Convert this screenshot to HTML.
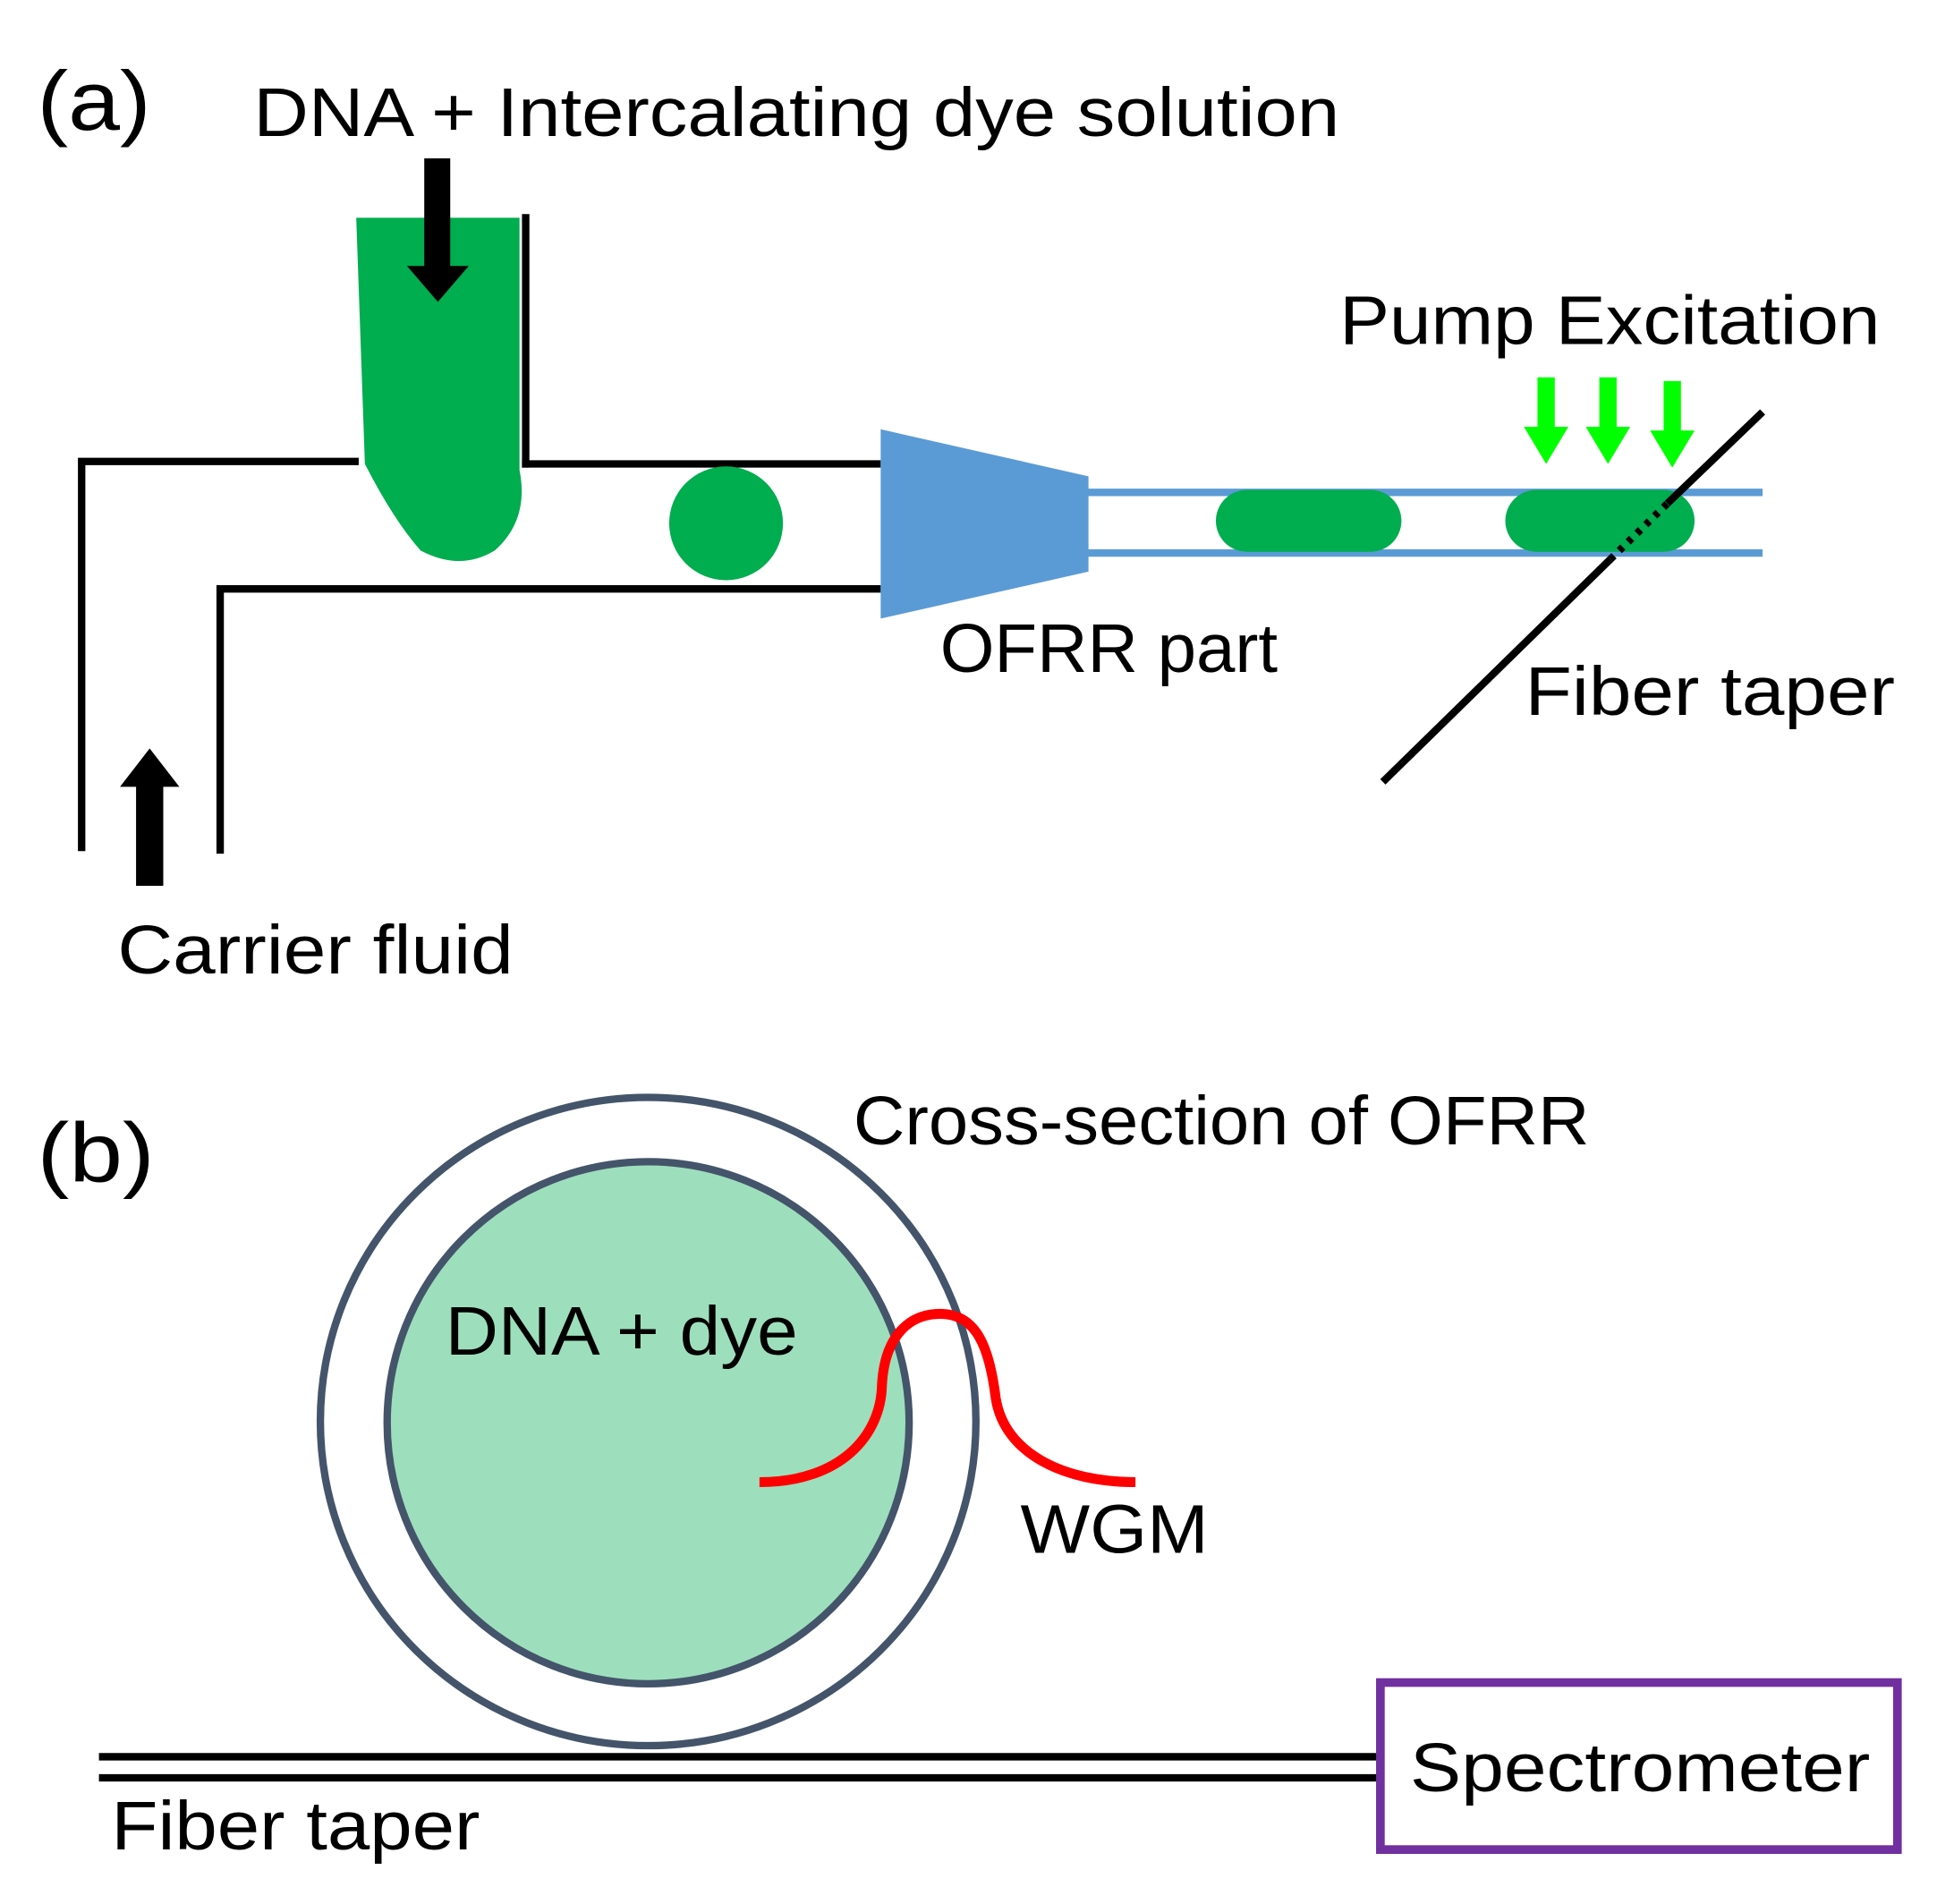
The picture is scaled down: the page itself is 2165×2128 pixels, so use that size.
<!DOCTYPE html>
<html><head><style>html,body{margin:0;padding:0;background:#fff}svg{display:block}</style></head>
<body>
<svg width="2165" height="2128" viewBox="0 0 1566 1539" preserveAspectRatio="none" xmlns="http://www.w3.org/2000/svg" font-family="Liberation Sans, sans-serif" fill="#000">
<rect width="1566" height="1539" fill="#fff"/>
<!-- (a) -->
<text x="30" y="105" font-size="68" textLength="92" lengthAdjust="spacingAndGlyphs">(a)</text>
<text x="205" y="110" font-size="56" textLength="878" lengthAdjust="spacingAndGlyphs">DNA + Intercalating dye solution</text>
<!-- green inlet -->
<path d="M288 176 H420 V380 Q428 420 400 445 Q372 462 340 445 Q318 420 295 375 Z" fill="#00ad4f"/>
<!-- black down arrow -->
<rect x="343" y="128" width="21" height="90" fill="#000"/>
<polygon points="329,215 379,215 354,244" fill="#000"/>
<!-- channel lines -->
<g stroke="#000" stroke-width="6" fill="none">
<polyline points="66,688 66,373 290,373"/>
<line x1="425" y1="173" x2="425" y2="378"/>
<line x1="422" y1="375" x2="712" y2="375"/>
<polyline points="178,690 178,476 712,476"/>
</g>
<ellipse cx="587" cy="423" rx="46" ry="46" fill="#00ad4f"/>
<polygon points="712,347 880,385 880,462 712,500" fill="#5b9bd5"/>
<g stroke="#5b9bd5" stroke-width="6"><line x1="878" y1="398" x2="1425" y2="398"/><line x1="878" y1="447" x2="1425" y2="447"/></g>
<rect x="983" y="396" width="150" height="50" rx="25" fill="#00ad4f"/>
<rect x="1217" y="396" width="153" height="50" rx="25" fill="#00ad4f"/>
<line x1="1118" y1="632" x2="1302" y2="452" stroke="#000" stroke-width="6"/>
<line x1="1348" y1="407" x2="1425" y2="333" stroke="#000" stroke-width="6"/>
<line x1="1302" y1="452" x2="1348" y2="407" stroke="#000" stroke-width="6" stroke-dasharray="4 6"/>
<!-- pump arrows -->
<g fill="#00ff00">
<rect x="1243" y="305" width="14" height="42"/><polygon points="1232,345 1268,345 1250,375"/>
<rect x="1293" y="305" width="14" height="42"/><polygon points="1282,345 1318,345 1300,375"/>
<rect x="1345" y="308" width="14" height="42"/><polygon points="1334,348 1370,348 1352,378"/>
</g>
<text x="1083" y="278" font-size="56" textLength="437" lengthAdjust="spacingAndGlyphs">Pump Excitation</text>
<text x="760" y="543" font-size="56" textLength="273" lengthAdjust="spacingAndGlyphs">OFRR part</text>
<text x="1233" y="578" font-size="56" textLength="299" lengthAdjust="spacingAndGlyphs">Fiber taper</text>
<!-- up arrow -->
<rect x="110" y="632" width="22" height="84" fill="#000"/>
<polygon points="97,636 145,636 121,605" fill="#000"/>
<text x="95" y="787" font-size="56" textLength="320" lengthAdjust="spacingAndGlyphs">Carrier fluid</text>
<!-- (b) -->
<text x="30" y="955" font-size="68" textLength="95" lengthAdjust="spacingAndGlyphs">(b)</text>
<ellipse cx="524" cy="1149" rx="265" ry="262" fill="none" stroke="#44546a" stroke-width="6"/>
<ellipse cx="524" cy="1150" rx="211" ry="211" fill="#9ddfbc" stroke="#44546a" stroke-width="6"/>
<text x="690" y="925" font-size="56" textLength="595" lengthAdjust="spacingAndGlyphs">Cross-section of OFRR</text>
<text x="360" y="1095" font-size="56" textLength="285" lengthAdjust="spacingAndGlyphs">DNA + dye</text>
<path d="M614 1198 C680 1198 712 1160 713 1120 C715 1080 735 1062 760 1062 C790 1062 800 1090 805 1130 C812 1175 860 1198 918 1198" fill="none" stroke="#ff0000" stroke-width="8"/>
<text x="825" y="1255" font-size="56" textLength="152" lengthAdjust="spacingAndGlyphs">WGM</text>
<g stroke="#000" stroke-width="6"><line x1="80" y1="1420" x2="1113" y2="1420"/><line x1="80" y1="1437" x2="1113" y2="1437"/></g>
<rect x="1116" y="1360" width="418" height="135" fill="#fff" stroke="#7030a0" stroke-width="7"/>
<text x="1140" y="1448" font-size="56" textLength="372" lengthAdjust="spacingAndGlyphs">Spectrometer</text>
<text x="90" y="1495" font-size="56" textLength="298" lengthAdjust="spacingAndGlyphs">Fiber taper</text>
</svg>
</body></html>
